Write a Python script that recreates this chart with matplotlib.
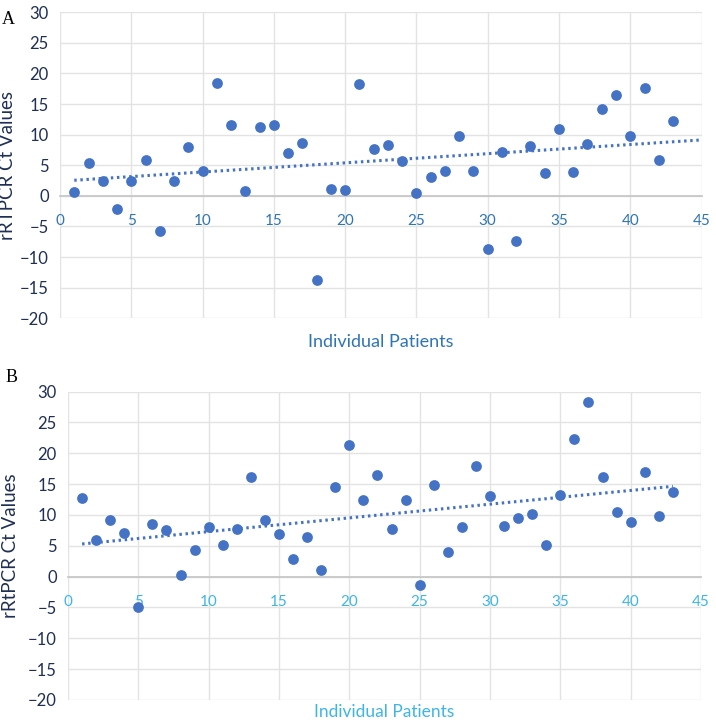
import numpy as np
from matplotlib import pyplot as plt

# 数据: 每个病人的 rRTPCR Ct 值
patients = np.arange(1, 44)
ct_a = [0.7, 5.4, 2.4, -2.1, 2.5, 5.8, -5.7, 2.5, 8.0, 4.1,
        18.4, 11.5, 0.8, 11.3, 11.5, 7.0, 8.7, -13.8, 1.1, 1.0,
        18.3, 7.6, 8.3, 5.7, 0.4, 3.1, 4.1, 9.7, 4.1, -8.7,
        7.1, -7.3, 8.2, 3.7, 11.0, 3.9, 8.4, 14.2, 16.4, 9.7,
        17.7, 5.8, 12.2]
ct_b = [12.8, 6.0, 9.2, 7.1, -4.9, 8.5, 7.5, 0.2, 4.3, 8.0,
        5.2, 7.8, 16.1, 9.2, 6.9, 2.8, 6.5, 1.0, 14.6, 21.4,
        12.4, 16.5, 7.8, 12.4, -1.4, 14.9, 4.0, 8.0, 18.0, 13.1,
        8.2, 9.5, 10.1, 5.1, 13.2, 22.3, 28.3, 16.2, 10.4, 8.8,
        17.0, 9.8, 13.8]
xticks = [0, 5, 10, 15, 20, 25, 30, 35, 40, 45]
yticks = [-20, -15, -10, -5, 0, 5, 10, 15, 20, 25, 30]

plt.rcParams['font.family'] = ['Lato', 'DejaVu Sans']
dot = '#4472C4'

fig = plt.figure(figsize=(7.16, 7.2), dpi=100)
axA = fig.add_axes([0.0838, 0.558, 0.896, 0.425])
axB = fig.add_axes([0.095, 0.028, 0.884, 0.428])


def draw(ax, y, ylabel, xcol, labcol, trend_end):
    ax.scatter(patients, y, s=60, color=dot, zorder=3, linewidths=0)
    k, b = np.polyfit(patients, y, 1)
    xt = np.array([1, trend_end])
    ax.plot(xt, k * xt + b, color=dot, lw=2.2, ls=(0, (0.8, 1.2)), zorder=2)
    ax.set_xlim(0, 45)
    ax.set_ylim(-20, 30)
    ax.set_xticks(xticks)
    ax.set_yticks(yticks)
    ax.grid(True, color='#E3E3E3', lw=1)
    ax.set_axisbelow(True)
    for s in ['top', 'right', 'left']:
        ax.spines[s].set_visible(False)
    ax.spines['bottom'].set_position(('data', 0))
    ax.spines['bottom'].set_color('#C8C8C8')
    ax.spines['bottom'].set_linewidth(1.3)
    ax.tick_params(length=0)
    ax.tick_params(axis='y', labelsize=12, colors='#1F2F55', pad=8)
    ax.tick_params(axis='x', labelsize=11, colors=xcol, pad=13)
    ax.set_ylabel(ylabel, fontsize=13.5, color='#1F2F55', labelpad=2)
    ax.set_xlabel('Individual Patients', fontsize=13, color=labcol)


draw(axA, ct_a, 'rRTPCR Ct Values', '#2E75B6', '#2E75B6', 45)
draw(axB, ct_b, 'rRtPCR Ct Values', '#3DB5E6', '#3DB5E6', 43)
axA.xaxis.set_label_coords(0.5, -0.05)
axB.xaxis.set_label_coords(0.5, -0.012)
axB.xaxis.label.set_fontsize(12.5)
axA.yaxis.set_label_coords(-0.068, 0.5)
axB.yaxis.set_label_coords(-0.078, 0.5)

fig.text(0.003, 0.985, 'A', family='Liberation Serif', fontsize=13, va='top')
fig.text(0.008, 0.487, 'B', family='Liberation Serif', fontsize=13, va='top')

fig.savefig('out.png', dpi=100)
